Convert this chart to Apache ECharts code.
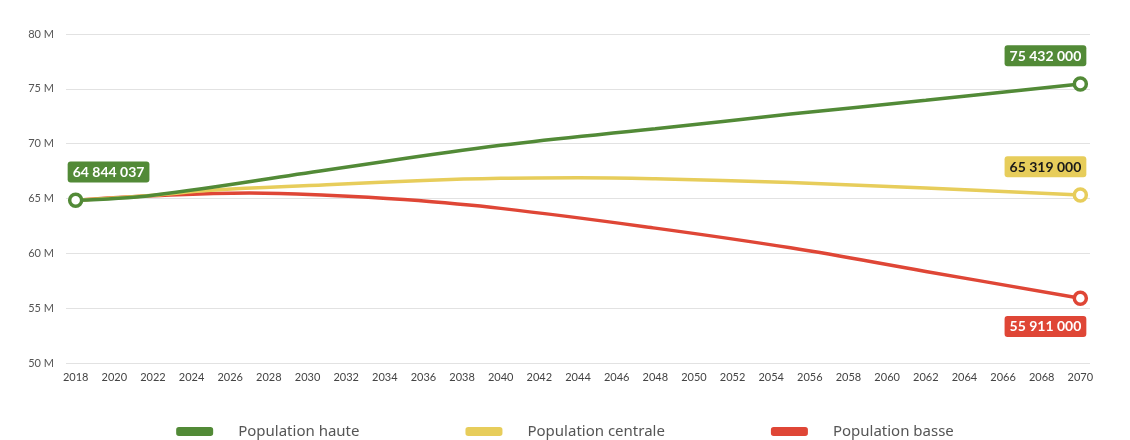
<!DOCTYPE html>
<html><head><meta charset="utf-8">
<script src="https://cdn.jsdelivr.net/npm/echarts@6/dist/echarts.min.js"></script>
<style>html,body{margin:0;padding:0;background:#fff}#c{width:1130px;height:440px}</style>
</head><body><div id="c"></div>
<script>
const years = [];
for (let y = 2018; y <= 2070; y++) years.push(String(y));
const seriesNames = ['Population haute', 'Population centrale', 'Population basse'];
const colors = ['#528a37', '#e7cd5b', '#df4636'];
const hauteYears = ['2018','2022','2031','2040','2048','2055','2062','2070'];
const hauteVals  = [64.844037,65.3,67.6,69.85,71.35,72.7,73.95,75.432];
const centraleYears = ['2018','2022','2025','2031','2036','2040','2044','2048','2055','2062','2070'];
const centraleVals  = [64.844037,65.3,65.75,66.25,66.65,66.85,66.9,66.8,66.45,65.95,65.319];
const basseYears = ['2018','2022','2027','2031','2035','2040','2048','2055','2062','2070'];
const basseVals  = [64.844037,65.25,65.5,65.3,64.9,64.1,62.3,60.5,58.35,55.911];
const endLabels = { haute: ['64 844 037','75 432 000'], centrale: '65 319 000', basse: '55 911 000' };
const yTicks = [50,55,60,65,70,75,80];

const FONT = 'Lato';
function lbl(text, bg, fg, pos, align, off) {
  return { show: true, formatter: text, position: pos, align: align, offset: off,
    backgroundColor: bg, color: fg, fontFamily: FONT, fontWeight: 'bold', fontSize: 14,
    padding: [4, 5, 3, 5], borderRadius: 3, distance: 10 };
}
function pt(x, v, label, showSym) {
  const o = { value: [x, v], symbol: showSym ? 'circle' : 'none' };
  if (label) o.label = label;
  return o;
}
function build(ys, vs, idx) {
  return ys.map((y, i) => {
    let label = null, sym = false;
    if (idx === 0 && i === 0) { label = lbl(endLabels.haute[0], colors[0], '#fff', 'top', 'left', [-8, 0]); sym = true; }
    if (i === ys.length - 1) {
      sym = true;
      if (idx === 0) label = lbl(endLabels.haute[1], colors[0], '#fff', 'top', 'right', [6, 0]);
      if (idx === 1) label = lbl(endLabels.centrale, colors[1], '#1a1a1a', 'top', 'right', [6, 0]);
      if (idx === 2) label = lbl(endLabels.basse, colors[2], '#fff', 'bottom', 'right', [6, 0]);
    }
    return pt(y, vs[i], label, sym);
  });
}
const data = [build(hauteYears, hauteVals, 0), build(centraleYears, centraleVals, 1), build(basseYears, basseVals, 2)];

const chart = echarts.init(document.getElementById('c'));
chart.setOption({
  animation: false,
  color: colors,
  grid: { left: 66, right: 40, top: 34, bottom: 77 },
  xAxis: {
    type: 'category', data: years, boundaryGap: true,
    axisLine: { show: false }, axisTick: { show: false },
    axisLabel: { interval: 1, color: '#444', fontFamily: FONT, fontSize: 11, margin: 9 }
  },
  yAxis: {
    type: 'value', min: 50, max: 80, interval: 5,
    axisLine: { show: false }, axisTick: { show: false },
    splitLine: { lineStyle: { color: '#e2e2e2', width: 1 } },
    axisLabel: { color: '#555', fontFamily: FONT, fontSize: 11, margin: 12,
      formatter: v => yTicks.includes(v) ? v + ' M' : '' }
  },
  legend: {
    bottom: -4, left: 'center', itemGap: 106, itemWidth: 35, itemHeight: 7,
    icon: 'roundRect',
    textStyle: { color: '#555', fontFamily: 'Noto Sans', fontSize: 15, padding: [0, 0, 0, 21] },
    data: seriesNames.map((n, i) => ({ name: n, itemStyle: { color: colors[i] } }))
  },
  series: seriesNames.map((n, i) => ({
    name: n, type: 'line', smooth: 0.4, z: 10 - i,
    data: data[i],
    symbolSize: 12, showSymbol: true,
    itemStyle: { color: '#fff', borderColor: colors[i], borderWidth: 3.5 },
    lineStyle: { color: colors[i], width: 3.5 },
    emphasis: { disabled: true }
  }))
});
</script></body></html>
